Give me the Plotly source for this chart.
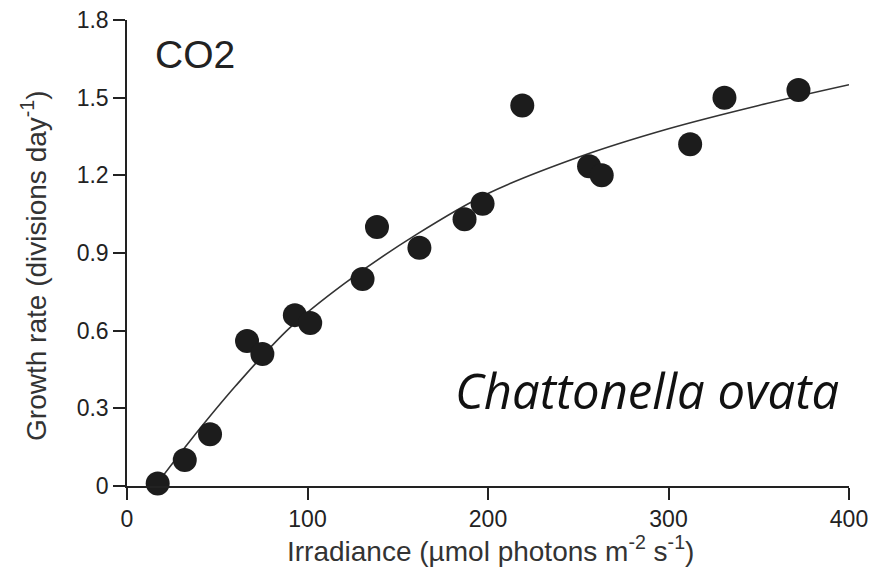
import plotly.graph_objects as go

irradiance = [17, 32, 46, 66.5, 75, 93, 101.5, 130.5, 138.5, 162, 187, 197, 219, 256, 263, 312, 331, 372]
growth = [0.01, 0.10, 0.20, 0.56, 0.51, 0.66, 0.63, 0.80, 1.00, 0.92, 1.03, 1.09, 1.47, 1.235, 1.20, 1.32, 1.50, 1.53]

# Fitted curve, points
fit_x = [20, 35, 60, 90, 120, 160, 200, 250, 300, 350, 400]
fit_y = [0.04, 0.175, 0.385, 0.61, 0.78, 0.97, 1.13, 1.27, 1.38, 1.47, 1.55]

x_ticks = [0, 100, 200, 300, 400]
y_ticks = [0, 0.3, 0.6, 0.9, 1.2, 1.5, 1.8]
y_tick_text = ["0", "0.3", "0.6", "0.9", "1.2", "1.5", "1.8"]

font_family = "Liberation Sans, Arial, sans-serif"

fig = go.Figure()
fig.add_trace(go.Scatter(
    x=fit_x, y=fit_y, mode="lines",
    line=dict(color="#333333", width=1.6, shape="spline", smoothing=1.0),
    hoverinfo="skip", cliponaxis=False,
))
fig.add_trace(go.Scatter(
    x=irradiance, y=growth, mode="markers",
    marker=dict(symbol="circle", size=24, color="#1c1c1c", line=dict(width=0)),
    cliponaxis=False,
))

fig.update_layout(
    width=886, height=576,
    margin=dict(l=119, r=45, t=12, b=98, autoexpand=False),
    paper_bgcolor="white", plot_bgcolor="white",
    showlegend=False,
    font=dict(family=font_family, color="#222222"),
    xaxis=dict(
        range=[0, 400], tickvals=x_ticks, ticks="outside", ticklen=12, tickwidth=1.5,
        tickcolor="#222", showline=True, linecolor="#222", linewidth=1.5,
        showgrid=False, zeroline=False, tickfont=dict(size=23), automargin=False,
        ticklabeloverflow="allow",
    ),
    yaxis=dict(
        range=[0, 1.8], tickvals=y_ticks, ticktext=y_tick_text, ticks="outside",
        ticklen=12, tickwidth=1.5, tickcolor="#222", showline=True, linecolor="#222",
        linewidth=1.5, showgrid=False, zeroline=False, tickfont=dict(size=23),
        automargin=False, ticklabeloverflow="allow",
    ),
    annotations=[
        dict(text="Irradiance (µmol photons m<sup>-2</sup> s<sup>-1</sup>)",
             x=0.503, y=-0.136, xref="paper", yref="paper",
             xanchor="center", yanchor="middle", showarrow=False,
             font=dict(size=28, family=font_family, color="#333333")),
        dict(text="Growth rate (divisions day<sup>-1</sup>)", textangle=-90,
             x=-0.129, y=0.472, xref="paper", yref="paper",
             xanchor="center", yanchor="middle", showarrow=False,
             font=dict(size=28, family=font_family, color="#333333")),
        dict(text="CO2", x=0.036, y=0.925, xref="paper", yref="paper",
             xanchor="left", yanchor="middle", showarrow=False,
             font=dict(size=39, family=font_family, color="#222222")),
        dict(text="<i>Chattonella ovata</i>", x=0.72, y=0.205, xref="paper", yref="paper",
             xanchor="center", yanchor="middle", showarrow=False,
             font=dict(size=49, family="Open Sans, Liberation Sans, sans-serif", color="#111111")),
    ],
)

fig.write_html("out.html")
